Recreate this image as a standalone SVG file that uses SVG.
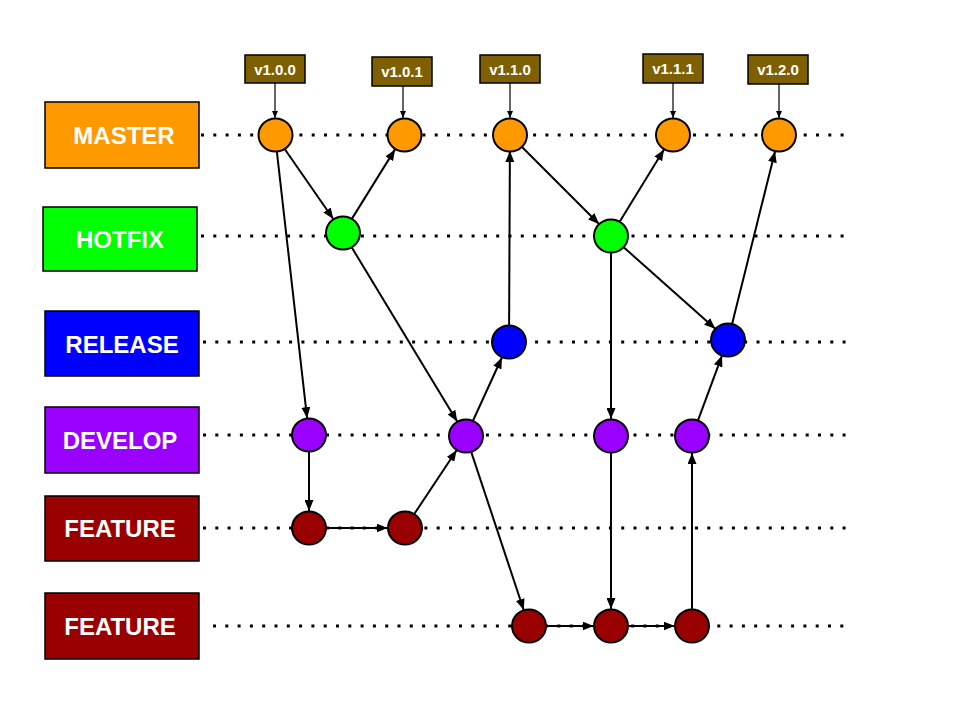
<svg xmlns="http://www.w3.org/2000/svg" width="960" height="720" viewBox="0 0 960 720">
<style>
.lane{stroke:#000;stroke-width:3;stroke-dasharray:3 9.3;fill:none}
.lbl{stroke:#000;stroke-width:1.5}
.lt{font-family:"Liberation Sans",Arial,sans-serif;font-weight:bold;font-size:24px;fill:#fff;text-anchor:middle}
.tag{fill:#7f6000;stroke:#000;stroke-width:1.5}
.tt{font-family:"Liberation Sans",Arial,sans-serif;font-weight:bold;font-size:15px;fill:#fff;text-anchor:middle}
.n{stroke:#000;stroke-width:2}
.e{stroke:#000;stroke-width:2;fill:none;marker-end:url(#ah)}
.te{stroke:#000;stroke-width:1.2;fill:none;marker-end:url(#sa)}
.or{fill:#ff9900}.gr{fill:#00ff00}.bl{fill:#0000ff}.pu{fill:#9900ff}.re{fill:#990000}
</style>
<defs>
<marker id="ah" viewBox="0 0 11 9" refX="11" refY="4.5" markerWidth="11" markerHeight="9" markerUnits="userSpaceOnUse" orient="auto"><path d="M0,0L11,4.5L0,9z" fill="#000"/></marker>
<marker id="sa" viewBox="0 0 7 6" refX="7" refY="3" markerWidth="7" markerHeight="6" markerUnits="userSpaceOnUse" orient="auto"><path d="M0,0L7,3L0,6z" fill="#000"/></marker>
</defs>
<rect width="960" height="720" fill="#fff"/>
<g id="lanes">
<line class="lane" x1="201" y1="135" x2="852" y2="135"/>
<line class="lane" x1="201" y1="236" x2="852" y2="236"/>
<line class="lane" x1="203" y1="342" x2="852" y2="342"/>
<line class="lane" x1="203" y1="435" x2="852" y2="435"/>
<line class="lane" x1="203" y1="528" x2="852" y2="528"/>
<line class="lane" x1="213" y1="626" x2="852" y2="626"/>
</g>
<g id="label-master"><rect class="lbl or" x="45" y="102" width="154" height="66"/><text class="lt" x="124" y="144">MASTER</text></g>
<g id="label-hotfix"><rect class="lbl gr" x="43" y="207" width="154" height="64"/><text class="lt" x="120" y="248">HOTFIX</text></g>
<g id="label-release"><rect class="lbl bl" x="45" y="311" width="154" height="65"/><text class="lt" x="122" y="352.5">RELEASE</text></g>
<g id="label-develop"><rect class="lbl pu" x="45" y="407" width="154" height="66"/><text class="lt" x="120" y="448.5">DEVELOP</text></g>
<g id="label-feature1"><rect class="lbl re" x="45" y="496" width="154" height="65"/><text class="lt" x="120" y="537">FEATURE</text></g>
<g id="label-feature2"><rect class="lbl re" x="45" y="593" width="154" height="66"/><text class="lt" x="120" y="635">FEATURE</text></g>
<g id="tag-v100"><rect class="tag" x="245" y="55" width="60" height="28"/><text class="tt" x="275" y="74.5">v1.0.0</text></g>
<g id="tag-v101"><rect class="tag" x="372" y="57" width="60" height="29"/><text class="tt" x="402" y="77">v1.0.1</text></g>
<g id="tag-v110"><rect class="tag" x="480" y="55" width="60" height="28"/><text class="tt" x="510" y="74.5">v1.1.0</text></g>
<g id="tag-v111"><rect class="tag" x="643" y="54" width="60" height="29"/><text class="tt" x="673" y="74">v1.1.1</text></g>
<g id="tag-v120"><rect class="tag" x="748" y="55" width="60" height="29"/><text class="tt" x="778" y="75">v1.2.0</text></g>
<g id="connectors">
<line class="te" x1="275" y1="83" x2="275" y2="118"/>
<line class="te" x1="403" y1="86" x2="403" y2="118"/>
<line class="te" x1="510" y1="83" x2="510" y2="118"/>
<line class="te" x1="673" y1="83" x2="673" y2="118"/>
<line class="te" x1="779" y1="84" x2="779" y2="118"/>
<line class="e" x1="276.9" y1="151.9" x2="307.1" y2="418.1"/>
<line class="e" x1="284.7" y1="149" x2="333.3" y2="219"/>
<line class="e" x1="352" y1="218.6" x2="395" y2="149.4"/>
<line class="e" x1="351.8" y1="247.5" x2="457.2" y2="421.5"/>
<line class="e" x1="309" y1="451.5" x2="309" y2="511"/>
<line class="e" x1="326.5" y1="528" x2="387.5" y2="528"/>
<line class="e" x1="414.4" y1="513.8" x2="456.6" y2="450.2"/>
<line class="e" x1="473.1" y1="420.5" x2="501.9" y2="357.5"/>
<line class="e" x1="509.1" y1="325.5" x2="509.9" y2="151"/>
<line class="e" x1="471.3" y1="452.1" x2="523.7" y2="610"/>
<line class="e" x1="522" y1="147" x2="599" y2="224"/>
<line class="e" x1="619.8" y1="221.4" x2="664" y2="149.6"/>
<line class="e" x1="611" y1="252.5" x2="611" y2="419"/>
<line class="e" x1="611" y1="452.5" x2="611" y2="609"/>
<line class="e" x1="623.7" y1="247.3" x2="715.3" y2="328.7"/>
<line class="e" x1="546.5" y1="626" x2="593.5" y2="626"/>
<line class="e" x1="628.5" y1="626" x2="674.5" y2="626"/>
<line class="e" x1="692" y1="609.5" x2="692" y2="453"/>
<line class="e" x1="698" y1="420.4" x2="722" y2="355.6"/>
<line class="e" x1="732.2" y1="323.5" x2="775" y2="151.5"/>
</g>
<g id="m1"><ellipse class="n or" cx="275.5" cy="135" rx="17" ry="16.5"/></g>
<g id="m2"><ellipse class="n or" cx="404.5" cy="135" rx="17" ry="16.5"/></g>
<g id="m3"><ellipse class="n or" cx="510" cy="135" rx="17" ry="16.5"/></g>
<g id="m4"><ellipse class="n or" cx="673" cy="135" rx="17" ry="16.5"/></g>
<g id="m5"><ellipse class="n or" cx="779" cy="135" rx="17" ry="16.5"/></g>
<g id="h1"><ellipse class="n gr" cx="343" cy="233" rx="17" ry="16.5"/></g>
<g id="h2"><ellipse class="n gr" cx="611" cy="236" rx="17" ry="16.5"/></g>
<g id="r1"><ellipse class="n bl" cx="509" cy="342" rx="17" ry="16.5"/></g>
<g id="r2"><ellipse class="n bl" cx="728" cy="340" rx="17" ry="16.5"/></g>
<g id="d1"><ellipse class="n pu" cx="309" cy="435" rx="17" ry="16.5"/></g>
<g id="d2"><ellipse class="n pu" cx="466" cy="436" rx="17" ry="16.5"/></g>
<g id="d3"><ellipse class="n pu" cx="611" cy="436" rx="17" ry="16.5"/></g>
<g id="d4"><ellipse class="n pu" cx="692" cy="436" rx="17" ry="16.5"/></g>
<g id="f1a"><ellipse class="n re" cx="309" cy="528" rx="17" ry="16.5"/></g>
<g id="f1b"><ellipse class="n re" cx="405" cy="528" rx="17" ry="16.5"/></g>
<g id="f2a"><ellipse class="n re" cx="529" cy="626" rx="17" ry="16.5"/></g>
<g id="f2b"><ellipse class="n re" cx="611" cy="626" rx="17" ry="16.5"/></g>
<g id="f2c"><ellipse class="n re" cx="692" cy="626" rx="17" ry="16.5"/></g>
</svg>
